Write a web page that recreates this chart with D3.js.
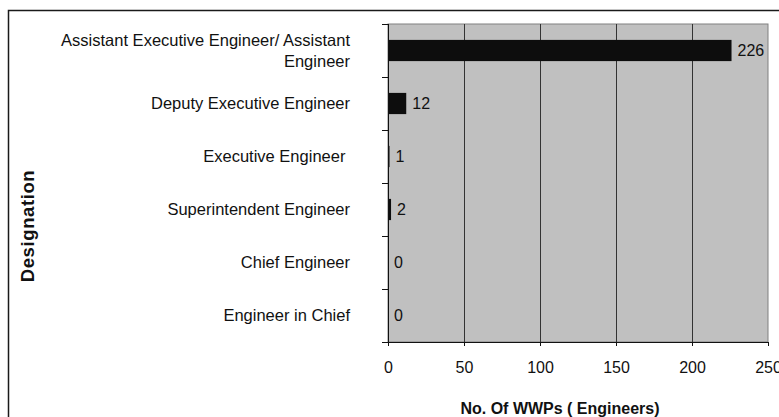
<!DOCTYPE html>
<html lang="en">
<head>
    <meta charset="UTF-8">
    <title>WWPs by Designation</title>
    <script src="https://cdn.jsdelivr.net/npm/d3@7"></script>
    <style>
        body { margin: 0; background: #fff; }
        svg { display: block; font-family: "Liberation Sans", Arial, sans-serif; }
        .lbl { white-space: pre; }
    </style>
</head>
<body>
<svg width="779" height="417"></svg>
<script>
    // data
    const designations = [
        ["Assistant Executive Engineer/ Assistant", "Engineer"],
        ["Deputy Executive Engineer"],
        ["Executive Engineer "],
        ["Superintendent Engineer"],
        ["Chief Engineer"],
        ["Engineer in Chief"]
    ];
    const engineers = [226, 12, 1, 2, 0, 0];
    const xTicks = [0, 50, 100, 150, 200, 250];

    const plotL = 388, plotR = 768, plotT = 24, plotB = 342;
    const svg = d3.select("svg");

    // outer frame
    svg.append("rect")
        .attr("x", 8.5).attr("y", 10.5)
        .attr("width", 800).attr("height", 430)
        .attr("fill", "none").attr("stroke", "#1a1a1a").attr("stroke-width", 1.5);

    const x = d3.scaleLinear().domain([0, 250]).range([plotL, plotR]);
    const y = d3.scaleBand().domain(d3.range(designations.length)).range([plotT, plotB])
        .paddingInner(0.6).paddingOuter(0.3);

    // plot area
    svg.append("rect")
        .attr("x", plotL).attr("y", plotT)
        .attr("width", plotR - plotL).attr("height", plotB - plotT)
        .attr("fill", "#c0c0c0").attr("stroke", "#808080");

    // gridlines
    svg.append("g").selectAll("line")
        .data(xTicks.slice(1, -1))
        .join("line")
        .attr("x1", d => x(d) + 0.5).attr("x2", d => x(d) + 0.5)
        .attr("y1", plotT).attr("y2", plotB)
        .attr("stroke", "#333").attr("stroke-width", 1);

    // bars
    svg.append("g").selectAll("rect")
        .data(engineers)
        .join("rect")
        .attr("x", x(0))
        .attr("y", (d, i) => y(i))
        .attr("width", d => x(d) - x(0))
        .attr("height", y.bandwidth())
        .attr("fill", "#0d0d0d");

    // value labels
    svg.append("g").selectAll("text")
        .data(engineers)
        .join("text")
        .attr("x", d => x(d) + 6)
        .attr("y", (d, i) => y(i) + y.bandwidth() / 2)
        .attr("dy", "0.35em")
        .attr("font-size", 16)
        .attr("fill", "#111")
        .text(d => d);

    // x axis
    const xAxis = svg.append("g")
        .attr("transform", `translate(0,${plotB})`)
        .call(d3.axisBottom(x).tickValues(xTicks).tickSize(4).tickPadding(16));
    xAxis.select(".domain").attr("stroke", "#111").attr("d", `M${plotL - 6},0.5H${plotR}`);
    xAxis.selectAll(".tick line").attr("stroke", "#111");
    xAxis.selectAll(".tick text")
        .attr("font-size", 16).attr("fill", "#111")
        .attr("font-family", "Liberation Sans, Arial, sans-serif");

    // y axis line and ticks between categories
    const step = (plotB - plotT) / designations.length;
    svg.append("line")
        .attr("x1", plotL + 0.5).attr("x2", plotL + 0.5)
        .attr("y1", plotT).attr("y2", plotB)
        .attr("stroke", "#111");
    svg.append("g").selectAll("line")
        .data(d3.range(designations.length + 1))
        .join("line")
        .attr("x1", plotL - 6).attr("x2", plotL)
        .attr("y1", i => plotT + i * step + 0.5).attr("y2", i => plotT + i * step + 0.5)
        .attr("stroke", "#111");

    // category labels
    const cat = svg.append("g").selectAll("text")
        .data(designations)
        .join("text")
        .attr("class", "lbl")
        .attr("text-anchor", "end")
        .attr("font-size", 16.5)
        .attr("fill", "#111")
        .attr("transform", (d, i) => `translate(350,${y(i) + y.bandwidth() / 2})`);
    cat.selectAll("tspan")
        .data(d => d.map((t, k) => ({t, k, n: d.length})))
        .join("tspan")
        .attr("x", 0)
        .attr("y", d => (d.k - (d.n - 1) / 2) * 21)
        .attr("dy", "0.35em")
        .text(d => d.t);

    // axis titles
    svg.append("text")
        .attr("x", 560).attr("y", 408)
        .attr("dy", "0.35em")
        .attr("text-anchor", "middle")
        .attr("font-size", 16).attr("font-weight", "bold")
        .attr("fill", "#111")
        .text("No. Of WWPs ( Engineers)");

    svg.append("text")
        .attr("transform", "translate(28,226) rotate(-90)")
        .attr("dy", "0.35em")
        .attr("text-anchor", "middle")
        .attr("font-size", 18.5).attr("font-weight", "bold")
        .attr("letter-spacing", 0.6)
        .attr("fill", "#111")
        .text("Designation");
</script>
</body>
</html>
